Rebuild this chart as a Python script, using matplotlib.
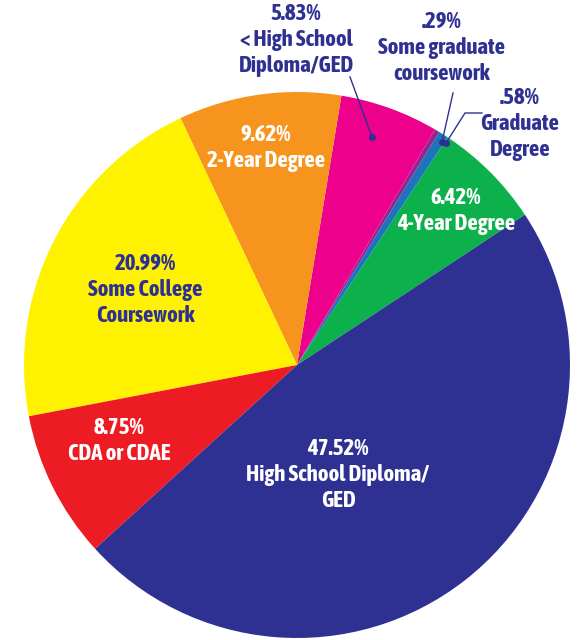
import matplotlib.pyplot as plt

# education levels, counterclockwise from the 4-year slice
categories = ['4-Year Degree', 'Graduate Degree', 'Some graduate coursework',
              '< High School Diploma/GED', '2-Year Degree',
              'Some College Coursework', 'CDA or CDAE',
              'High School Diploma/GED']
shares = [6.42, 0.58, 0.29, 5.83, 9.62, 20.99, 8.75, 47.52]
colors = ['#0DB14B', '#1C75BC', '#92278F', '#EC008C', '#F7941D',
          '#FFF200', '#ED1C24', '#2E3192']

FONT = ['Asap Condensed', 'DejaVu Sans']
NAVY = '#2E3192'

fig = plt.figure(figsize=(5.79, 6.4), dpi=100)
ax = fig.add_axes([0, 0, 1, 1])

cx, cy, r = 297, 275, 273
ax.pie(shares, colors=colors, startangle=33.4, counterclock=True,
       center=(cx, cy), radius=r, frame=True,
       wedgeprops=dict(linewidth=0))
ax.set_xlim(0, 579)
ax.set_ylim(0, 640)
ax.set_aspect('equal')
ax.axis('off')


def label(x, y, txt, color='white'):
    ax.text(x, 640 - y, txt, ha='center', va='center', color=color,
            family=FONT, fontweight='bold', fontsize=16.5, linespacing=1.25)


def pct(v):
    s = f'{v:.2f}%'
    return s[1:] if s.startswith('0') else s


# labels inside the slices
label(145, 290, f'{pct(shares[5])}\nSome College\nCoursework', NAVY)
label(266, 148, f'{pct(shares[4])}\n2-Year Degree')
label(456, 211, f'{pct(shares[0])}\n4-Year Degree')
label(119, 441, f'{pct(shares[6])}\nCDA or CDAE')
label(338, 475, f'{pct(shares[7])}\nHigh School Diploma/\nGED')

# labels outside with leader lines
label(296, 40, f'{pct(shares[3])}\n< High School\nDiploma/GED', NAVY)
label(442, 48, f'{pct(shares[2])}\nSome graduate\ncoursework', NAVY)
label(520, 124, f'{pct(shares[1])}\nGraduate\nDegree', NAVY)

leaders = [
    [(350, 77), (372, 137)],
    [(453, 93), (442, 142)],
    [(482, 113), (465, 113), (446, 143)],
]
for pts in leaders:
    xs = [p[0] for p in pts]
    ys = [640 - p[1] for p in pts]
    ax.plot(xs, ys, color=NAVY, lw=1)
    ax.plot(xs[-1], ys[-1], 'o', color=NAVY, ms=4)

fig.savefig('out.png', dpi=100)
